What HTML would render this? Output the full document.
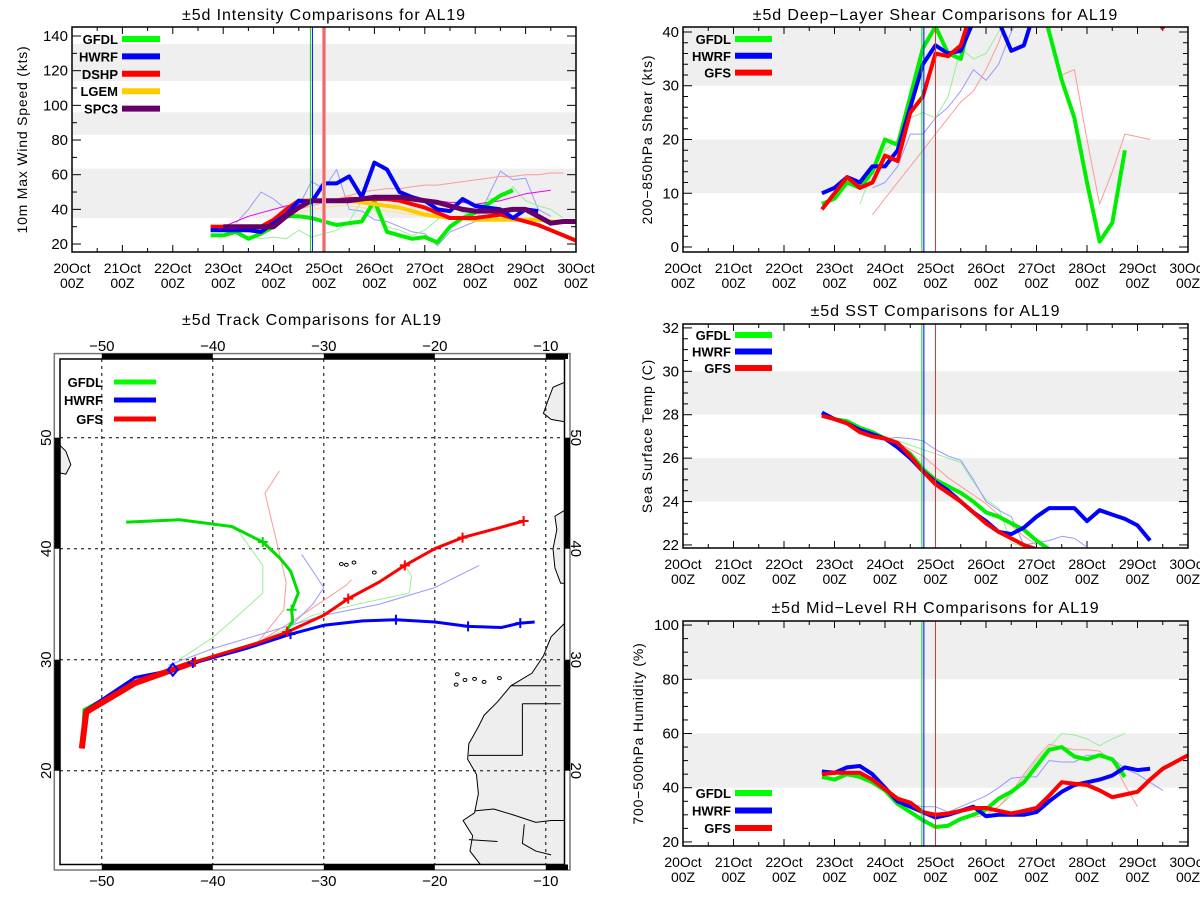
<!DOCTYPE html>
<html><head><meta charset="utf-8"><title>AL19 Comparisons</title>
<style>
html,body{margin:0;padding:0;background:#fff;}
svg{display:block;font-family:"Liberation Sans",sans-serif;}
</style></head>
<body>
<svg id="fig" width="1200" height="900" viewBox="0 0 1200 900" xmlns="http://www.w3.org/2000/svg">
<defs>
<clipPath id="clipI"><rect x="72" y="27" width="504" height="225"/></clipPath>
<clipPath id="clipS"><rect x="683" y="27" width="505" height="225"/></clipPath>
<clipPath id="clipT"><rect x="683" y="324" width="505" height="224"/></clipPath>
<clipPath id="clipR"><rect x="683" y="621" width="505" height="225"/></clipPath>
<clipPath id="clipM"><rect x="60" y="359" width="504.5" height="505.5"/></clipPath>
</defs>
<g id="panels"></g>
<g id="map"></g>
</svg>
<script>
// ---------- shared time axis (days since 20 Oct 00Z) ----------
const dayLabels = ["20Oct","21Oct","22Oct","23Oct","24Oct","25Oct","26Oct","27Oct","28Oct","29Oct","30Oct"];
const tStart = 2.75;
const tStep = 0.25;
const initGreenT = 4.73;
const initRedT = 5.0;

// ---------- intensity ----------
const intGFDL = [25,25,27,23,26,30,36,36,35,33,31,32,33,45,27,25,23,24,21,30,35,38,43,48,51];
const intHWRF = [28,28,28,28,27,32,37,45,44,55,55,59,47,67,63,50,47,45,40,39,46,42,41,40,35,40,39];
const intDSHP = [30,30,30,30,30,34,40,45,45,45,45,46,46,46,46,45,43,41,38,35,35,35,36,37,35,33,31,28,25,22];
const intLGEM = [30,30,30,30,30,34,40,45,45,45,45,45,44,43,42,41,39,37,36,35,35,34,34,34,34,34,34,33,33];
const intSPC3 = [30,30,30,30,30,36,41,45,45,45,45,46,47,47,47,46,45,44,42,40,39,39,39,40,40,36,32,33,33,33];
const intFaintBlue = [32,40,50,46,40,42,56,52,63,40,39,34,33,30,27,26,19,27,30,33,47,62,57,58,40,36];
const intFaintGreen = [25,23,24,23,28,24,26,28,33,45,40,30,28,25,28,34,43,38,37,46,47,53,45,42,40,35];
const intFaintPink = [35,38,40,42,44,46,48,50,51,52,52,53,54,54,55,56,57,58,59,59,60,60,61,61];
const intMagenta = [30,33,36,38,40,42,43,44,45,45,45,46,46,45,45,45,45,45,44,44,43,44,45,47,49,50,51];
const intFaintYellow = [36,38,40,41,42,42,41,40,39,38,37,36,35,35,34,34,34];
const intTicks = [20,40,60,80,100,120,140];

// ---------- shear ----------
const shrGFDL = [8,9,12,11,14,20,19,28,37,41,36,35,45,50,55,55,55,50,40,31,24,12,1,4.5,18];
const shrHWRF = [10,11,13,12,15,15,18,26,34,37.5,36,36.5,42,45,42,36.5,37.5,45];
const shrGFS = [7,10,13,11,12,17,16,25,28,36,35.5,37.5,45,50,52,52,50,50,50,50,50,50,50,50,50,50,50,40.5];
const shrFaintBlue = [11,12,15,21,21,24,26,29,33,31,34,40,45];
const shrFaintGreen = [8,14,18,20,24,25,24,28,37,35,36,40,45];
const shrFaintPink = [6,9,12,15,18,21,24,27,29,33,38,45];
const shrFaintPinkLate = [32,33,20,8,14,21,20.5,20];
const shrTicks = [0,10,20,30,40];

// ---------- SST ----------
const sstGFDL = [28.0,27.8,27.7,27.4,27.2,26.9,26.6,26.2,25.5,25.0,24.7,24.4,24.0,23.5,23.3,23.0,22.7,22.2,21.8];
const sstHWRF = [28.1,27.8,27.6,27.3,27.1,26.9,26.5,26.0,25.4,24.9,24.5,24.0,23.5,23.1,22.6,22.5,22.8,23.3,23.7,23.7,23.7,23.1,23.6,23.4,23.2,22.9,22.2];
const sstGFS = [27.95,27.8,27.6,27.2,27.0,26.9,26.7,26.1,25.4,24.8,24.4,24.0,23.5,23.0,22.6,22.3,22.0,21.8];
const sstFaintGreen = [27.0,26.8,26.6,26.4,26.2,26.0,25.8,24.9,24.1,23.7,22.1,21.9];
const sstFaintBlue = [26.9,26.95,26.9,26.8,26.4,26.1,25.9,25.0,24.0,23.6,23.3,22.0,22.1,22.2,22.4,22.3,21.9];
const sstFaintPink = [26.9,26.7,26.4,26.1,25.6,25.1,24.7,24.3,23.9,23.4,22.9,22.4,22.0];
const sstTicks = [22,24,26,28,30,32];

// ---------- RH ----------
const rhGFDL = [44,43,45,44,42,39,34,31,28,25.5,26,28.5,30,32,36,38.5,42,48,54,55,51.5,50.5,52,50.5,44];
const rhHWRF = [46,45.5,47.5,48,45,40,35,33,31,29,30,31.5,33,29.5,30,30,30,31,35,38.5,41,42,43,44.5,47.5,46.5,47];
const rhGFS = [45,45.5,45.5,45.5,43,39.5,36,34.5,31,30,30.5,31.5,32.5,32.5,31.5,30.5,31.5,32.5,37,42,41.5,41,39,36.5,37.5,38.5,43,47,49.5,52];
const rhFaintGreen = [30,31,33,37,44,50,55,60,59.5,58,55.5,58,60];
const rhFaintBlue = [36,34,33,33,31,33,35,37,40,43.5,44,44,50,49.5,49.5,52,52,51,47,45,42,39];
const rhFaintPink = [29,30,33,38,45,51,56,55,54,54,53.5,50,41,33];
const rhTicks = [20,40,60,80,100];

// ---------- tracks (lon, lat) ----------
const trkGFDLlon = [-51.8,-51.6,-47,-43.7,-41.7,-40,-36,-33.5,-32.8,-32.9,-32.3,-33,-34,-35.5,-38.3,-43,-47.8];
const trkGFDLlat = [22,25.5,28,29.2,29.8,30.3,31.5,32.4,33.5,34.5,36,38,39.2,40.6,42.0,42.6,42.4];
const trkHWRFlon = [-51.8,-51.5,-47,-43.5,-41,-37,-33,-30,-26.5,-23.5,-20,-17,-14,-12.3,-11];
const trkHWRFlat = [22,25.4,28.4,29.1,29.9,31,32.3,33.1,33.5,33.6,33.4,33,32.9,33.3,33.4];
const trkGFSlon = [-51.8,-51.4,-47,-43.6,-41.6,-40,-36,-33.3,-30,-27.8,-25,-22.7,-20,-17.5,-14.5,-12];
const trkGFSlat = [22,25.3,27.9,29.1,29.8,30.3,31.5,32.5,34,35.5,37,38.5,40,41,41.8,42.5];
const trkPinkLon = [-36,-33.6,-33.4,-34.1,-35.3,-34];
const trkPinkLat = [31.5,34.5,37,40,45,47];
const trkFaintGreenLon = [-43,-40,-37.7,-35.5,-35.5,-38,-43];
const trkFaintGreenLat = [30,32,34,36,38.5,42,42.6];
const trkFaintGreen2Lon = [-36,-31,-27,-22.3,-22.1,-22.6];
const trkFaintGreen2Lat = [31.5,34,35,36,37.5,38.4];
const trkFaintBlueLon = [-44,-40,-35,-30,-25,-20,-17,-16];
const trkFaintBlueLat = [29.5,31,32.5,34,35,36.5,38,38.5];
const trkFaintBlue2Lon = [-33,-31,-30,-31,-32];
const trkFaintBlue2Lat = [33,35,36.5,38,39.5];
const trkFaintPink2Lon = [-36,-32,-28,-27.5];
const trkFaintPink2Lat = [31.5,34,36.7,37.2];
const trkCrossGFSlon = [-41.6,-33.3,-27.8,-22.7,-17.5,-12];
const trkCrossGFSlat = [29.8,32.5,35.5,38.5,41,42.5];
const trkCrossHWRFlon = [-41.8,-33,-23.5,-17,-12.3];
const trkCrossHWRFlat = [29.7,32.3,33.6,33,33.3];
const trkCrossGFDLlon = [-35.5,-32.9];
const trkCrossGFDLlat = [40.6,34.5];
const lonTicks = [-50,-40,-30,-20,-10];
const latTicks = [20,30,40,50];

const NS = "http://www.w3.org/2000/svg";
function mk(tag, attrs, parent){
  const e = document.createElementNS(NS, tag);
  for (const k in attrs) e.setAttribute(k, attrs[k]);
  parent.appendChild(e);
  return e;
}
const root = document.getElementById('panels');

function panel(cfg){
  const g = mk('g', {}, root);
  
  
  const X = t => cfg.x0 + (cfg.x1 - cfg.x0) * t / 10;
  const Y = v => cfg.y1 - (v - cfg.vmin) * (cfg.y1 - cfg.y0) / (cfg.vmax - cfg.vmin);
  // bands
  cfg.bands.forEach(b => {
    const r = mk('rect', {x: cfg.x0, y: Y(Math.min(b[1], cfg.vmax)), width: cfg.x1 - cfg.x0, height: Y(b[0]) - Y(Math.min(b[1], cfg.vmax)), fill: '#efefef'}, g);
    
    
  });
  // title
  const ti = mk('text', {x: (cfg.x0 + cfg.x1) / 2, y: cfg.titleY, 'text-anchor': 'middle', 'font-size': 16, 'letter-spacing': 0.9}, g);
  ti.textContent = cfg.title;
  
  
  // y title
  const yc = (cfg.y0 + cfg.y1) / 2;
  const yt = mk('text', {x: cfg.ytX, y: yc, 'text-anchor': 'middle', 'font-size': 14, 'letter-spacing': 0.8, transform: `rotate(-90 ${cfg.ytX} ${yc})`}, g);
  yt.textContent = cfg.ytitle;
  
  
  // x ticks & labels
  dayLabels.forEach((lab, i) => {
    const x = X(i);
    mk('line', {x1: x, x2: x, y1: cfg.y1, y2: cfg.y1 - 7, stroke: '#000'}, g);
    mk('line', {x1: x, x2: x, y1: cfg.y0, y2: cfg.y0 + 7, stroke: '#000'}, g);
    if (i < 10) {
      const xm = X(i + 0.5);
      mk('line', {x1: xm, x2: xm, y1: cfg.y1, y2: cfg.y1 - 4, stroke: '#000'}, g);
      mk('line', {x1: xm, x2: xm, y1: cfg.y0, y2: cfg.y0 + 4, stroke: '#000'}, g);
    }
    const t1 = mk('text', {x: x, y: cfg.y1 + 21, 'text-anchor': 'middle', 'font-size': 14}, g);
    t1.textContent = lab;
    
    
    const t2 = mk('text', {x: x, y: cfg.y1 + 36, 'text-anchor': 'middle', 'font-size': 14}, g);
    t2.textContent = '00Z';
    
    
  });
  // y ticks
  for (let v = cfg.ticks[0]; v <= cfg.ticks[cfg.ticks.length - 1] + 1e-6; v += cfg.minor) {
    const y = Y(v);
    const major = cfg.ticks.some(tk => Math.abs(tk - v) < 1e-6);
    const L = major ? 9 : 5;
    mk('line', {x1: cfg.x0, x2: cfg.x0 + L, y1: y, y2: y, stroke: '#000'}, g);
    mk('line', {x1: cfg.x1, x2: cfg.x1 - L, y1: y, y2: y, stroke: '#000'}, g);
  }
  cfg.ticks.forEach(v => {
    const tl = mk('text', {x: cfg.x0 - 4, y: Y(v) + 5, 'text-anchor': 'end', 'font-size': 15}, g);
    tl.textContent = v;
    
    
  });
  // series
  const sg = mk('g', {'clip-path': `url(#${cfg.clip})`}, g);
  cfg.series.forEach(s => {
    const t0 = s.t0 === undefined ? tStart : s.t0;
    const pts = s.data.map((v, i) => X(t0 + i * tStep).toFixed(1) + ',' + Y(v).toFixed(1)).join(' ');
    const pl = mk('polyline', {points: pts, fill: 'none', stroke: s.color, 'stroke-width': s.w, 'stroke-linejoin': 'round', opacity: s.op || 1}, sg);
    
    
  });
  // init vertical lines
  if (cfg.thickRed) {
    mk('line', {x1: X(initRedT), x2: X(initRedT), y1: cfg.y0, y2: cfg.y1, stroke: '#f4a0a0', 'stroke-width': 4}, g);
  }
  const vr = mk('line', {x1: X(initRedT), x2: X(initRedT), y1: cfg.y0, y2: cfg.y1, stroke: '#f03030', 'stroke-width': 1}, g);
  
  
  const vg = mk('line', {x1: X(initGreenT), x2: X(initGreenT), y1: cfg.y0, y2: cfg.y1, stroke: '#00dd00', 'stroke-width': 1}, g);
  
  
  const vb = mk('line', {x1: X(initGreenT) + 2, x2: X(initGreenT) + 2, y1: cfg.y0, y2: cfg.y1, stroke: '#0000ff', 'stroke-width': 1}, g);
  
  
  // frame
  mk('rect', {x: cfg.x0, y: cfg.y0, width: cfg.x1 - cfg.x0, height: cfg.y1 - cfg.y0, fill: 'none', stroke: '#000', 'stroke-width': 1.5}, g);
  // legend
  cfg.legend.forEach((l, i) => {
    const y = cfg.legY + i * cfg.legDy;
    const lt = mk('text', {x: cfg.legTx, y: y + 5, 'text-anchor': 'end', 'font-size': 13, 'font-weight': 'bold'}, g);
    lt.textContent = l[0];
    
    
    mk('line', {x1: cfg.legX0, x2: cfg.legX1, y1: y, y2: y, stroke: l[1], 'stroke-width': 6}, g);
  });
}

const G = '#00ee00', B = '#0000ff', R = '#ff0000';
panel({name: 'intensity-chart', title: '±5d Intensity Comparisons for AL19', titleY: 20, ytitle: '10m Max Wind Speed (kts)', ytX: 27,
  x0: 72, x1: 576, y0: 27, y1: 252, vmin: 15.4, vmax: 145.2, ticks: intTicks, minor: 10, clip: 'clipI', thickRed: true,
  bands: [[35, 63.5], [83, 96], [114, 135.5]],
  series: [
    {name: 'faint-blue', data: intFaintBlue, t0: 3.25, color: '#9999ff', w: 1},
    {name: 'faint-green', data: intFaintGreen, t0: 3.5, color: '#99ee99', w: 1},
    {name: 'faint-pink', data: intFaintPink, t0: 4.0, color: '#ff9999', w: 1},
    {name: 'faint-yellow', data: intFaintYellow, t0: 4.25, color: '#ffe080', w: 1},
    {name: 'magenta-thin', data: intMagenta, t0: 3.0, color: '#ee00ee', w: 1},
    {name: 'gfdl-line', data: intGFDL, color: G, w: 4},
    {name: 'lgem-line', data: intLGEM, color: '#ffcc00', w: 4},
    {name: 'dshp-line', data: intDSHP, color: R, w: 4},
    {name: 'hwrf-line', data: intHWRF, color: B, w: 4},
    {name: 'spc3-line', data: intSPC3, t0: 3.0, color: '#660066', w: 5}],
  legend: [['GFDL', '#00ff00'], ['HWRF', B], ['DSHP', R], ['LGEM', '#ffcc00'], ['SPC3', '#660066']],
  legTx: 118, legX0: 122, legX1: 160, legY: 39, legDy: 17.4});

panel({name: 'shear-chart', title: '±5d Deep−Layer Shear Comparisons for AL19', titleY: 20, ytitle: '200−850hPa Shear (kts)', ytX: 652,
  x0: 683, x1: 1188, y0: 27, y1: 252, vmin: -0.93, vmax: 40.93, ticks: shrTicks, minor: 2, clip: 'clipS',
  bands: [[10, 20], [30, 41]],
  series: [
    {name: 'faint-blue', data: shrFaintBlue, t0: 3.75, color: '#9999ff', w: 1},
    {name: 'faint-green', data: shrFaintGreen, t0: 3.5, color: '#99ee99', w: 1},
    {name: 'faint-pink', data: shrFaintPink, t0: 3.75, color: '#ff9999', w: 1},
    {name: 'faint-pink-late', data: shrFaintPinkLate, t0: 7.5, color: '#ff9999', w: 1},
    {name: 'gfdl-line', data: shrGFDL, color: G, w: 4},
    {name: 'hwrf-line', data: shrHWRF, color: B, w: 4},
    {name: 'gfs-line', data: shrGFS, color: R, w: 4}],
  legend: [['GFDL', '#00ff00'], ['HWRF', B], ['GFS', R]],
  legTx: 731, legX0: 735, legX1: 772, legY: 39, legDy: 16.8});

panel({name: 'sst-chart', title: '±5d SST Comparisons for AL19', titleY: 316, ytitle: 'Sea Surface Temp (C)', ytX: 652,
  x0: 683, x1: 1188, y0: 324, y1: 548, vmin: 21.86, vmax: 32.18, ticks: sstTicks, minor: 0.5, clip: 'clipT',
  bands: [[24, 26], [28, 30]],
  series: [
    {name: 'faint-green', data: sstFaintGreen, t0: 4.0, color: '#99ee99', w: 1},
    {name: 'faint-blue', data: sstFaintBlue, t0: 4.0, color: '#9999ff', w: 1},
    {name: 'faint-pink', data: sstFaintPink, t0: 4.0, color: '#ff9999', w: 1},
    {name: 'gfdl-line', data: sstGFDL, color: G, w: 4},
    {name: 'hwrf-line', data: sstHWRF, color: B, w: 4},
    {name: 'gfs-line', data: sstGFS, color: R, w: 4}],
  legend: [['GFDL', '#00ff00'], ['HWRF', B], ['GFS', R]],
  legTx: 731, legX0: 735, legX1: 772, legY: 335, legDy: 16.5});

panel({name: 'rh-chart', title: '±5d Mid−Level RH Comparisons for AL19', titleY: 613, ytitle: '700−500hPa Humidity (%)', ytX: 643,
  x0: 683, x1: 1188, y0: 621, y1: 846, vmin: 18.5, vmax: 101.5, ticks: rhTicks, minor: 5, clip: 'clipR',
  bands: [[40, 60], [80, 101.5]],
  series: [
    {name: 'faint-green', data: rhFaintGreen, t0: 5.75, color: '#99ee99', w: 1},
    {name: 'faint-blue', data: rhFaintBlue, t0: 4.25, color: '#9999ff', w: 1},
    {name: 'faint-pink', data: rhFaintPink, t0: 5.75, color: '#ff9999', w: 1},
    {name: 'gfdl-line', data: rhGFDL, color: G, w: 4},
    {name: 'hwrf-line', data: rhHWRF, color: B, w: 4},
    {name: 'gfs-line', data: rhGFS, color: R, w: 4}],
  legend: [['GFDL', '#00ff00'], ['HWRF', B], ['GFS', R]],
  legTx: 731, legX0: 735, legX1: 772, legY: 793, legDy: 17.5});

// ---------- map ----------
const map = document.getElementById('map');
const LX = lon => 323.8 + (lon + 30) * 11.1;
const LY = lat => 659.7 - (lat - 30) * 11.1;
const mt = mk('text', {x: 312, y: 325, 'text-anchor': 'middle', 'font-size': 16, 'letter-spacing': 0.9}, map);
mt.textContent = '±5d Track Comparisons for AL19';


// frame outer & inner
mk('rect', {x: 54.3, y: 353.6, width: 515.7, height: 516.4, fill: '#fff', stroke: '#777', 'stroke-width': 1.5}, map);
const X0 = 60, X1 = 564.5, Y0 = 359, Y1 = 864.5;
// land (in zoom coordinates, scaled)
const land = mk('g', {transform: 'translate(0,300) scale(0.3827)', 'clip-path': 'url(#clipM2)'}, map);


const ls = {fill: '#eeeeee', stroke: '#000', 'stroke-width': 1, 'vector-effect': 'non-scaling-stroke'};
mk('path', Object.assign({d: 'M1475,845 L1440,880 L1420,930 L1390,975 L1335,1008 L1300,1050 L1265,1085 L1250,1115 L1225,1160 L1222,1200 L1245,1240 L1250,1290 L1240,1340 L1210,1360 L1235,1400 L1228,1440 L1255,1475 L1475,1475 Z'}, ls), land);
mk('path', Object.assign({d: 'M1475,215 L1445,228 L1432,262 L1420,296 L1440,312 L1475,318 Z'}, ls), land);
mk('path', Object.assign({d: 'M1475,550 L1450,565 L1455,600 L1445,650 L1450,700 L1465,740 L1475,740 Z'}, ls), land);
mk('path', Object.assign({d: 'M157,380 L172,395 L185,430 L172,455 L157,452 Z'}, ls), land);
const bs = {fill: 'none', stroke: '#000', 'stroke-width': 1, 'vector-effect': 'non-scaling-stroke'};
mk('path', Object.assign({d: 'M1335,1008 L1465,1008 M1365,1055 L1465,1055 M1365,1055 L1365,1190 M1225,1190 L1365,1190 M1240,1335 L1290,1330 L1340,1345 L1400,1365 L1440,1360 L1475,1360 M1370,1370 L1365,1420 L1400,1440 L1440,1450 M1225,1410 L1300,1415'}, bs), land);
[[892,690],[905,692],[925,686],[978,712],[1195,978],[1215,993],[1240,990],[1265,998],[1305,988],[1192,1005]].forEach(p => {
  mk('ellipse', {cx: p[0], cy: p[1], rx: 5, ry: 4, fill: 'none', stroke: '#000', 'stroke-width': 1, 'vector-effect': 'non-scaling-stroke'}, land);
});
// grid
lonTicks.forEach(lon => {
  mk('line', {x1: LX(lon), x2: LX(lon), y1: Y0, y2: Y1, stroke: '#000', 'stroke-dasharray': '3,4', 'stroke-width': 1}, map);
});
latTicks.forEach(lat => {
  mk('line', {x1: X0, x2: X1, y1: LY(lat), y2: LY(lat), stroke: '#000', 'stroke-dasharray': '3,4', 'stroke-width': 1}, map);
});
// border bars
[[-50, -40], [-30, -20], [-10, -8]].forEach(r => {
  const xa = LX(r[0]), xb = Math.min(LX(r[1]), X1 + 5.5);
  mk('rect', {x: xa, y: 353.6, width: xb - xa, height: 5.4, fill: '#000'}, map);
  mk('rect', {x: xa, y: Y1, width: xb - xa, height: 5.5, fill: '#000'}, map);
});
[[40, 50], [20, 30]].forEach(r => {
  const ya = LY(r[1]), yb = LY(r[0]);
  mk('rect', {x: 54.3, y: ya, width: 5.7, height: yb - ya, fill: '#000'}, map);
  mk('rect', {x: X1, y: ya, width: 5.5, height: yb - ya, fill: '#000'}, map);
});
mk('rect', {x: X0, y: Y0, width: X1 - X0, height: Y1 - Y0, fill: 'none', stroke: '#000', 'stroke-width': 1.5}, map);
// tick labels
lonTicks.forEach(lon => {
  const a = mk('text', {x: LX(lon), y: 351, 'text-anchor': 'middle', 'font-size': 15}, map);
  a.textContent = '−' + Math.abs(lon);
  
  
  const b = mk('text', {x: LX(lon), y: 886, 'text-anchor': 'middle', 'font-size': 15}, map);
  b.textContent = '−' + Math.abs(lon);
  
  
});
latTicks.forEach(lat => {
  const y = LY(lat);
  const a = mk('text', {x: 51, y: y, 'text-anchor': 'middle', 'font-size': 15, transform: `rotate(-90 51 ${y})`}, map);
  a.textContent = lat;
  
  
  const b = mk('text', {x: 571, y: y, 'text-anchor': 'middle', 'font-size': 15, transform: `rotate(90 571 ${y})`}, map);
  b.textContent = lat;
  
  
});
// tracks
const tg = mk('g', {'clip-path': 'url(#clipM)'}, map);
function track(lons, lats, color, w, name){
  const pts = lons.map((lo, i) => LX(lo).toFixed(1) + ',' + LY(lats[i]).toFixed(1)).join(' ');
  const p = mk('polyline', {points: pts, fill: 'none', stroke: color, 'stroke-width': w, 'stroke-linejoin': 'round'}, tg);
  
  
}
function crosses(lons, lats, color){
  lons.forEach((lo, i) => {
    const x = LX(lo), y = LY(lats[i]);
    const c = mk('path', {d: `M${x-5},${y} L${x+5},${y} M${x},${y-5} L${x},${y+5}`, stroke: color, 'stroke-width': 2}, tg);
    
    
  });
}
track(trkPinkLon, trkPinkLat, '#ff9999', 1, 'faint-pink-track');
track(trkFaintPink2Lon, trkFaintPink2Lat, '#ff9999', 1, 'faint-pink-track');
track(trkFaintGreenLon, trkFaintGreenLat, '#99ee99', 1, 'faint-green-track');
track(trkFaintGreen2Lon, trkFaintGreen2Lat, '#99ee99', 1, 'faint-green-track');
track(trkFaintBlueLon, trkFaintBlueLat, '#9999ff', 1, 'faint-blue-track');
track(trkFaintBlue2Lon, trkFaintBlue2Lat, '#9999ff', 1, 'faint-blue-track');
track(trkGFDLlon, trkGFDLlat, '#00dd00', 3, 'gfdl-track');
track(trkHWRFlon, trkHWRFlat, B, 3, 'hwrf-track');
track(trkGFSlon, trkGFSlat, R, 3, 'gfs-track');
// thick early segment
track(trkGFSlon.slice(0, 5), trkGFSlat.slice(0, 5), R, 6, 'gfs-track-early');
crosses(trkCrossGFDLlon, trkCrossGFDLlat, '#00dd00');
crosses(trkCrossHWRFlon, trkCrossHWRFlat, B);
crosses(trkCrossGFSlon, trkCrossGFSlat, R);
const dx = LX(-43.6), dy = LY(29.1);
const dm = mk('path', {d: `M${dx},${dy-6} L${dx+5},${dy} L${dx},${dy+6} L${dx-5},${dy} Z`, fill: 'none', stroke: B, 'stroke-width': 2}, tg);


// map legend
[['GFDL', '#00ff00', 382], ['HWRF', B, 400], ['GFS', R, 419]].forEach(l => {
  const t = mk('text', {x: 103, y: l[2] + 5, 'text-anchor': 'end', 'font-size': 13, 'font-weight': 'bold'}, map);
  t.textContent = l[0];
  
  
  mk('line', {x1: 114, x2: 156, y1: l[2], y2: l[2], stroke: l[1], 'stroke-width': 5}, map);
});
// clip for land in scaled coordinates
const defs = document.querySelector('defs');
const cp = mk('clipPath', {id: 'clipM2'}, defs);
mk('rect', {x: 157, y: 155, width: 1318, height: 1320}, cp);
</script>
</body></html>
